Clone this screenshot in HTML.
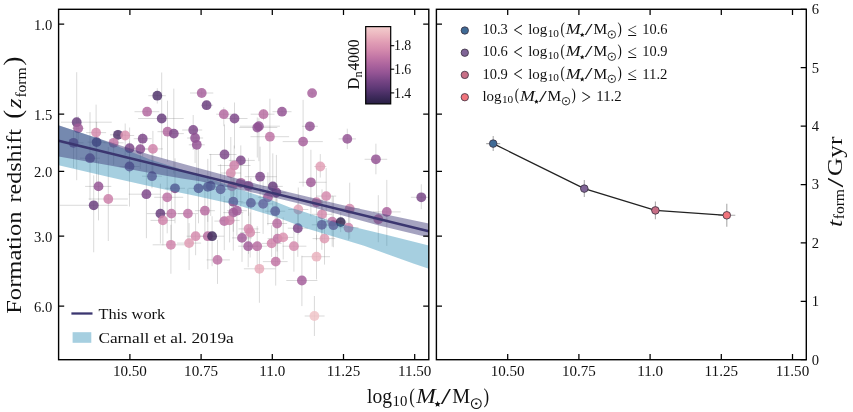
<!DOCTYPE html><html><head><meta charset="utf-8"><title>fig</title><style>html,body{margin:0;padding:0;background:#fff}svg{display:block;will-change:transform;opacity:0.9999}text{font-family:"Liberation Serif",serif;fill:#111}</style></head><body>
<svg width="853" height="412" viewBox="0 0 853 412">
<rect width="853" height="412" fill="#fff"/>
<defs><clipPath id="c1"><rect x="58.6" y="9.3" width="370.2" height="350.4"/></clipPath>
<linearGradient id="cb" x1="0" y1="0" x2="0" y2="1">
<stop offset="0" stop-color="#f3cece"/>
<stop offset="0.1" stop-color="#ecb7c0"/>
<stop offset="0.2" stop-color="#e19eb5"/>
<stop offset="0.3" stop-color="#d48aad"/>
<stop offset="0.4" stop-color="#c175a5"/>
<stop offset="0.5" stop-color="#ab639d"/>
<stop offset="0.6" stop-color="#945494"/>
<stop offset="0.7" stop-color="#774585"/>
<stop offset="0.8" stop-color="#5d3875"/>
<stop offset="0.9" stop-color="#402b5d"/>
<stop offset="1" stop-color="#281f44"/>
</linearGradient></defs>
<g clip-path="url(#c1)">
<path d="M60.9 122.2H111.7M76.7 72.2V180.2M72.2 128.3H84.2M78.2 116.3V142.3M86.1 132.6H106.1M96.1 104.6V162.6M87.6 142.1H105.6M96.6 122.1V182.1M61.5 142.8H83.5M73.5 122.8V167.8M80.0 158.2H100.0M90.0 112.2V200.2M110.0 134.8H126.0M118.0 129.8V146.8M116.2 135.5H134.2M125.2 123.5V155.5M103.6 142.8H123.6M113.6 134.8V164.8M121.6 148.2H137.6M129.6 127.5V173.2M131.3 149.1H149.3M140.3 134.1V169.1M133.7 138.7H151.7M142.7 132.7V156.7M142.9 148.9H162.9M152.9 130.9V173.9M134.5 111.7H159.3M147.1 108.7V115.7M148.3 95.7H165.8M157.3 88.2V103.5M138.1 118.5H183.7M161.7 72.5V158.5M157.5 131.7H177.5M167.5 100.7V161.7M163.8 133.6H183.8M173.8 88.6V173.6M190.0 93.0H213.3M201.7 90.0V96.0M201.6 105.2H213.1M206.6 101.2V109.2M182.2 130.0H202.2M193.2 115.0V150.0M187.1 138.0H203.1M195.1 128.0V163.0M188.8 144.8H204.8M196.8 132.8V189.8M216.2 114.2H231.8M223.8 107.2V126.2M224.5 118.5H247.5M234.5 102.5V148.5M209.0 154.5H236.5M224.5 124.5V184.5M228.8 160.4H254.8M240.8 145.4V185.4M217.7 165.5H250.5M234.2 145.5V195.5M119.5 166.5H139.5M129.5 141.5V206.5M309.1 93.1H315.1M312.1 90.1V96.1M250.7 114.2H274.5M263.5 109.2V120.2M272.5 111.7H291.5M282.0 107.7V115.7M239.3 127.5H277.3M257.3 117.5V157.5M239.9 126.2H279.9M258.9 118.2V161.2M301.9 126.3H317.9M309.9 122.3V131.3M250.5 136.7H289.1M269.9 98.7V186.7M282.7 141.6H322.8M303.1 99.9V186.6M338.6 138.9H356.0M347.3 128.7V149.1M364.6 159.3H387.2M375.9 143.7V174.3M314.3 166.5H326.3M320.3 154.1V177.5M142.0 176.2H162.0M152.0 151.2V188.2M165.0 188.3H185.0M175.0 158.3V223.3M188.5 188.3H208.5M198.5 148.3V223.3M198.8 186.9H216.8M207.8 158.9V221.9M201.7 185.9H219.7M210.7 153.9V215.9M210.6 189.3H230.6M220.6 164.3V219.3M223.3 201.7H243.3M233.3 173.7V231.7M85.1 186.4H111.3M98.5 161.4V220.4M88.6 199.0H127.9M108.3 147.0V241.0M59.7 205.3H127.7M93.7 175.3V252.3M128.7 194.2H160.4M146.4 164.2V238.2M154.2 197.3H183.2M167.2 169.3V233.3M146.9 213.6H172.4M160.4 183.6V243.6M159.4 213.6H185.4M171.4 185.6V243.6M150.5 220.4H174.6M162.9 198.4V245.4M177.9 213.6H197.9M187.9 188.6V241.6M194.9 210.7H214.9M204.9 180.7V240.7M220.8 173.0H240.8M230.8 137.0V203.0M222.0 186.4H242.0M232.0 161.4V211.4M230.8 182.8H250.8M240.8 157.8V210.8M223.3 212.6H243.3M233.3 182.6V250.6M226.9 210.7H246.9M236.9 185.7V235.7M214.3 221.1H234.3M224.3 196.1V250.1M219.6 220.4H239.6M229.6 198.4V242.4M186.6 236.2H204.6M195.6 214.2V255.2M198.8 236.2H216.8M207.8 211.2V269.2M203.1 236.2H224.1M212.1 216.2V266.2M152.7 244.8H184.9M170.9 224.8V273.8M177.1 243.1H201.1M189.1 223.1V270.1M232.0 237.9H252.0M242.0 212.9V261.9M238.2 246.2H258.2M248.2 226.2V267.2M244.7 176.7H276.7M260.1 146.7V206.7M238.5 185.9H258.5M248.5 157.9V215.9M262.8 186.4H282.8M272.8 153.4V216.4M266.4 192.5H286.4M276.4 154.9V222.5M257.9 197.3H277.9M267.9 172.3V225.3M240.9 202.9H260.9M250.9 177.9V230.9M253.1 203.9H273.1M263.1 178.9V233.9M265.2 211.2H285.2M275.2 183.2V241.2M288.3 209.5H308.3M298.3 187.5V234.5M267.1 223.5H287.1M277.1 198.5V251.5M287.8 228.2H307.8M297.8 203.2V256.9M238.5 228.9H258.5M248.5 203.9V253.9M240.2 232.5H260.2M250.2 212.5V257.5M247.2 246.2H267.2M257.2 226.2V268.2M261.6 243.4H281.6M271.6 225.4V256.9M267.6 238.6H287.6M277.6 216.6V263.6M273.2 237.4H293.2M283.2 217.4V259.4M282.5 246.2H306.4M293.9 224.2V271.7M298.9 182.3H326.4M310.9 149.8V216.3M316.2 196.1H336.2M326.2 168.1V228.1M312.0 214.3H332.0M322.0 189.3V242.3M306.5 202.2H326.5M316.5 167.2V240.2M311.8 224.8H331.8M321.8 199.8V249.8M322.2 221.6H342.2M332.2 195.6V246.6M323.4 225.2H343.4M333.4 196.2V247.2M334.7 222.1H346.7M340.7 212.1V232.1M338.5 227.7H358.5M348.5 207.7V239.7M339.7 208.7H359.7M349.7 182.7V238.7M312.6 238.6H335.2M324.5 218.6V264.6M373.0 211.9H400.7M386.8 179.9V245.9M368.3 219.2H388.3M378.3 195.2V242.2M410.9 197.3H431.3M421.3 184.3V209.1M206.6 259.9H229.9M217.5 239.9V283.9M262.9 261.6H287.6M275.7 239.6V285.6M243.9 268.8H275.4M259.4 249.8V302.8M301.7 256.7H330.0M316.5 234.7V279.4M286.3 280.5H317.4M301.9 255.7V306.1M304.7 316.0H324.6M314.4 296.0V336.0" stroke="#707070" stroke-opacity="0.29" stroke-width="0.9" fill="none"/>
<circle cx="76.7" cy="122.2" r="4.9" fill="#693e7d" fill-opacity="0.84"/>
<circle cx="78.2" cy="128.3" r="4.9" fill="#a15c99" fill-opacity="0.84"/>
<circle cx="96.1" cy="132.6" r="4.9" fill="#d48aad" fill-opacity="0.84"/>
<circle cx="96.6" cy="142.1" r="4.9" fill="#5d3875" fill-opacity="0.84"/>
<circle cx="73.5" cy="142.8" r="4.9" fill="#854c8d" fill-opacity="0.84"/>
<circle cx="90.0" cy="158.2" r="4.9" fill="#854c8d" fill-opacity="0.84"/>
<circle cx="118.0" cy="134.8" r="4.9" fill="#4f326a" fill-opacity="0.84"/>
<circle cx="125.2" cy="135.5" r="4.9" fill="#db93b0" fill-opacity="0.84"/>
<circle cx="113.6" cy="142.8" r="4.9" fill="#c175a5" fill-opacity="0.84"/>
<circle cx="129.6" cy="148.2" r="4.9" fill="#7d4889" fill-opacity="0.84"/>
<circle cx="140.3" cy="149.1" r="4.9" fill="#8e5091" fill-opacity="0.84"/>
<circle cx="142.7" cy="138.7" r="4.9" fill="#7d4889" fill-opacity="0.84"/>
<circle cx="152.9" cy="148.9" r="4.9" fill="#cf83aa" fill-opacity="0.84"/>
<circle cx="147.1" cy="111.7" r="4.9" fill="#b369a0" fill-opacity="0.84"/>
<circle cx="157.3" cy="95.7" r="4.9" fill="#4f326a" fill-opacity="0.84"/>
<circle cx="161.7" cy="118.5" r="4.9" fill="#693e7d" fill-opacity="0.84"/>
<circle cx="167.5" cy="131.7" r="4.9" fill="#b369a0" fill-opacity="0.84"/>
<circle cx="173.8" cy="133.6" r="4.9" fill="#7d4889" fill-opacity="0.84"/>
<circle cx="201.7" cy="93.0" r="4.9" fill="#a7609c" fill-opacity="0.84"/>
<circle cx="206.6" cy="105.2" r="4.9" fill="#693e7d" fill-opacity="0.84"/>
<circle cx="193.2" cy="130.0" r="4.9" fill="#7d4889" fill-opacity="0.84"/>
<circle cx="195.1" cy="138.0" r="4.9" fill="#8e5091" fill-opacity="0.84"/>
<circle cx="196.8" cy="144.8" r="4.9" fill="#945494" fill-opacity="0.84"/>
<circle cx="223.8" cy="114.2" r="4.9" fill="#b369a0" fill-opacity="0.84"/>
<circle cx="234.5" cy="118.5" r="4.9" fill="#7d4889" fill-opacity="0.84"/>
<circle cx="224.5" cy="154.5" r="4.9" fill="#7d4889" fill-opacity="0.84"/>
<circle cx="240.8" cy="160.4" r="4.9" fill="#7d4889" fill-opacity="0.84"/>
<circle cx="234.2" cy="165.5" r="4.9" fill="#cc80a9" fill-opacity="0.84"/>
<circle cx="129.5" cy="166.5" r="4.9" fill="#7d4889" fill-opacity="0.84"/>
<circle cx="312.1" cy="93.1" r="4.9" fill="#a7609c" fill-opacity="0.84"/>
<circle cx="263.5" cy="114.2" r="4.9" fill="#b76ca1" fill-opacity="0.84"/>
<circle cx="282.0" cy="111.7" r="4.9" fill="#945494" fill-opacity="0.84"/>
<circle cx="257.3" cy="127.5" r="4.9" fill="#8e5091" fill-opacity="0.84"/>
<circle cx="258.9" cy="126.2" r="4.9" fill="#8e5091" fill-opacity="0.84"/>
<circle cx="309.9" cy="126.3" r="4.9" fill="#945494" fill-opacity="0.84"/>
<circle cx="269.9" cy="136.7" r="4.9" fill="#be72a4" fill-opacity="0.84"/>
<circle cx="303.1" cy="141.6" r="4.9" fill="#a7609c" fill-opacity="0.84"/>
<circle cx="347.3" cy="138.9" r="4.9" fill="#945494" fill-opacity="0.84"/>
<circle cx="375.9" cy="159.3" r="4.9" fill="#945494" fill-opacity="0.84"/>
<circle cx="320.3" cy="166.5" r="4.9" fill="#e19eb5" fill-opacity="0.84"/>
<circle cx="152.0" cy="176.2" r="4.9" fill="#7d4889" fill-opacity="0.84"/>
<circle cx="175.0" cy="188.3" r="4.9" fill="#774585" fill-opacity="0.84"/>
<circle cx="198.5" cy="188.3" r="4.9" fill="#774585" fill-opacity="0.84"/>
<circle cx="207.8" cy="186.9" r="4.9" fill="#774585" fill-opacity="0.84"/>
<circle cx="210.7" cy="185.9" r="4.9" fill="#774585" fill-opacity="0.84"/>
<circle cx="220.6" cy="189.3" r="4.9" fill="#854c8d" fill-opacity="0.84"/>
<circle cx="233.3" cy="201.7" r="4.9" fill="#854c8d" fill-opacity="0.84"/>
<circle cx="98.5" cy="186.4" r="4.9" fill="#945494" fill-opacity="0.84"/>
<circle cx="108.3" cy="199.0" r="4.9" fill="#cc80a9" fill-opacity="0.84"/>
<circle cx="93.7" cy="205.3" r="4.9" fill="#693e7d" fill-opacity="0.84"/>
<circle cx="146.4" cy="194.2" r="4.9" fill="#7d4889" fill-opacity="0.84"/>
<circle cx="167.2" cy="197.3" r="4.9" fill="#be72a4" fill-opacity="0.84"/>
<circle cx="160.4" cy="213.6" r="4.9" fill="#693e7d" fill-opacity="0.84"/>
<circle cx="171.4" cy="213.6" r="4.9" fill="#be72a4" fill-opacity="0.84"/>
<circle cx="162.9" cy="220.4" r="4.9" fill="#cf83aa" fill-opacity="0.84"/>
<circle cx="187.9" cy="213.6" r="4.9" fill="#be72a4" fill-opacity="0.84"/>
<circle cx="204.9" cy="210.7" r="4.9" fill="#b76ca1" fill-opacity="0.84"/>
<circle cx="230.8" cy="173.0" r="4.9" fill="#d48aad" fill-opacity="0.84"/>
<circle cx="232.0" cy="186.4" r="4.9" fill="#cc80a9" fill-opacity="0.84"/>
<circle cx="240.8" cy="182.8" r="4.9" fill="#ab639d" fill-opacity="0.84"/>
<circle cx="233.3" cy="212.6" r="4.9" fill="#a15c99" fill-opacity="0.84"/>
<circle cx="236.9" cy="210.7" r="4.9" fill="#a15c99" fill-opacity="0.84"/>
<circle cx="224.3" cy="221.1" r="4.9" fill="#b76ca1" fill-opacity="0.84"/>
<circle cx="229.6" cy="220.4" r="4.9" fill="#cc80a9" fill-opacity="0.84"/>
<circle cx="195.6" cy="236.2" r="4.9" fill="#d48aad" fill-opacity="0.84"/>
<circle cx="207.8" cy="236.2" r="4.9" fill="#b76ca1" fill-opacity="0.84"/>
<circle cx="212.1" cy="236.2" r="4.9" fill="#402b5d" fill-opacity="0.84"/>
<circle cx="170.9" cy="244.8" r="4.9" fill="#cf83aa" fill-opacity="0.84"/>
<circle cx="189.1" cy="243.1" r="4.9" fill="#df9bb3" fill-opacity="0.84"/>
<circle cx="242.0" cy="237.9" r="4.9" fill="#a15c99" fill-opacity="0.84"/>
<circle cx="248.2" cy="246.2" r="4.9" fill="#a15c99" fill-opacity="0.84"/>
<circle cx="260.1" cy="176.7" r="4.9" fill="#7d4889" fill-opacity="0.84"/>
<circle cx="248.5" cy="185.9" r="4.9" fill="#a7609c" fill-opacity="0.84"/>
<circle cx="272.8" cy="186.4" r="4.9" fill="#693e7d" fill-opacity="0.84"/>
<circle cx="276.4" cy="192.5" r="4.9" fill="#854c8d" fill-opacity="0.84"/>
<circle cx="267.9" cy="197.3" r="4.9" fill="#a15c99" fill-opacity="0.84"/>
<circle cx="250.9" cy="202.9" r="4.9" fill="#854c8d" fill-opacity="0.84"/>
<circle cx="263.1" cy="203.9" r="4.9" fill="#945494" fill-opacity="0.84"/>
<circle cx="275.2" cy="211.2" r="4.9" fill="#854c8d" fill-opacity="0.84"/>
<circle cx="298.3" cy="209.5" r="4.9" fill="#e4a3b7" fill-opacity="0.84"/>
<circle cx="277.1" cy="223.5" r="4.9" fill="#b76ca1" fill-opacity="0.84"/>
<circle cx="297.8" cy="228.2" r="4.9" fill="#7d4889" fill-opacity="0.84"/>
<circle cx="248.5" cy="228.9" r="4.9" fill="#d48aad" fill-opacity="0.84"/>
<circle cx="250.2" cy="232.5" r="4.9" fill="#d48aad" fill-opacity="0.84"/>
<circle cx="257.2" cy="246.2" r="4.9" fill="#b76ca1" fill-opacity="0.84"/>
<circle cx="271.6" cy="243.4" r="4.9" fill="#cf83aa" fill-opacity="0.84"/>
<circle cx="277.6" cy="238.6" r="4.9" fill="#c175a5" fill-opacity="0.84"/>
<circle cx="283.2" cy="237.4" r="4.9" fill="#db93b0" fill-opacity="0.84"/>
<circle cx="293.9" cy="246.2" r="4.9" fill="#d48aad" fill-opacity="0.84"/>
<circle cx="310.9" cy="182.3" r="4.9" fill="#a15c99" fill-opacity="0.84"/>
<circle cx="326.2" cy="196.1" r="4.9" fill="#d48aad" fill-opacity="0.84"/>
<circle cx="322.0" cy="214.3" r="4.9" fill="#d48aad" fill-opacity="0.84"/>
<circle cx="316.5" cy="202.2" r="4.9" fill="#cc80a9" fill-opacity="0.84"/>
<circle cx="321.8" cy="224.8" r="4.9" fill="#854c8d" fill-opacity="0.84"/>
<circle cx="332.2" cy="221.6" r="4.9" fill="#c175a5" fill-opacity="0.84"/>
<circle cx="333.4" cy="225.2" r="4.9" fill="#854c8d" fill-opacity="0.84"/>
<circle cx="340.7" cy="222.1" r="4.9" fill="#332550" fill-opacity="0.84"/>
<circle cx="348.5" cy="227.7" r="4.9" fill="#cf83aa" fill-opacity="0.84"/>
<circle cx="349.7" cy="208.7" r="4.9" fill="#d48aad" fill-opacity="0.84"/>
<circle cx="324.5" cy="238.6" r="4.9" fill="#df9bb3" fill-opacity="0.84"/>
<circle cx="386.8" cy="211.9" r="4.9" fill="#ab639d" fill-opacity="0.84"/>
<circle cx="378.3" cy="219.2" r="4.9" fill="#c175a5" fill-opacity="0.84"/>
<circle cx="421.3" cy="197.3" r="4.9" fill="#774585" fill-opacity="0.84"/>
<circle cx="217.5" cy="259.9" r="4.9" fill="#be72a4" fill-opacity="0.84"/>
<circle cx="275.7" cy="261.6" r="4.9" fill="#c175a5" fill-opacity="0.84"/>
<circle cx="259.4" cy="268.8" r="4.9" fill="#e7aaba" fill-opacity="0.84"/>
<circle cx="316.5" cy="256.7" r="4.9" fill="#eab2be" fill-opacity="0.84"/>
<circle cx="301.9" cy="280.5" r="4.9" fill="#a55e9b" fill-opacity="0.84"/>
<circle cx="314.4" cy="316.0" r="4.9" fill="#f0c3c7" fill-opacity="0.84"/>
<polygon points="58.6,125.5 100,139 150,159.5 200,175.3 238.7,189 260,196 275,201.5 290,207.5 306,212.5 340,224 360,228.5 385,234.5 428.8,245.5 428.8,268.8 414,263.8 364,245.8 340,238.5 306,228.3 275,216.5 238.7,205.5 195,195.7 160,188.4 110,177.2 58.6,165.2" fill="#2087b2" fill-opacity="0.4"/>
<polygon points="58.6,125.3 100,139.121 150,154.844 200,168.567 250,182.09 290,192.468 340,204.491 380,213.369 428.8,223.599 428.8,237.599 380,225.669 340,214.791 300,203.813 270,196.479 240,189.645 200,181.167 182,178.466 150,172.944 110,165.565 58.6,156.5" fill="#3b3776" fill-opacity="0.46"/>
<line x1="58.6" y1="140.8" x2="428.8" y2="231.3" stroke="#3b3670" stroke-width="2.5"/>
</g>
<rect x="58.6" y="9.3" width="370.2" height="350.4" fill="none" stroke="#000" stroke-width="1.4"/>
<rect x="436.4" y="9.3" width="369.9" height="350.4" fill="none" stroke="#000" stroke-width="1.4"/>
<path d="M129.9 359.7v-5.6M129.9 9.3v5.6M201.1 359.7v-5.6M201.1 9.3v5.6M272.3 359.7v-5.6M272.3 9.3v5.6M343.5 359.7v-5.6M343.5 9.3v5.6M414.7 359.7v-5.6M414.7 9.3v5.6M507.7 359.7v-5.6M507.7 9.3v5.6M578.9 359.7v-5.6M578.9 9.3v5.6M650.1 359.7v-5.6M650.1 9.3v5.6M721.3 359.7v-5.6M721.3 9.3v5.6M792.5 359.7v-5.6M792.5 9.3v5.6M58.6 24.2h5.6M428.8 24.2h-5.6M436.4 24.2h5.6M58.6 114.2h5.6M428.8 114.2h-5.6M436.4 114.2h5.6M58.6 171.4h5.6M428.8 171.4h-5.6M436.4 171.4h5.6M58.6 236.2h5.6M428.8 236.2h-5.6M436.4 236.2h5.6M58.6 306.0h5.6M428.8 306.0h-5.6M436.4 306.0h5.6M806.3 359.7h-5.6M806.3 301.3h-5.6M806.3 242.9h-5.6M806.3 184.5h-5.6M806.3 126.1h-5.6M806.3 67.7h-5.6M806.3 9.3h-5.6" stroke="#000" stroke-width="1.25" fill="none"/>
<text x="129.9" y="376.3" font-size="15.1" text-anchor="middle">10.50</text>
<text x="201.1" y="376.3" font-size="15.1" text-anchor="middle">10.75</text>
<text x="272.3" y="376.3" font-size="15.1" text-anchor="middle">11.0</text>
<text x="343.5" y="376.3" font-size="15.1" text-anchor="middle">11.25</text>
<text x="414.7" y="376.3" font-size="15.1" text-anchor="middle">11.50</text>
<text x="507.7" y="376.3" font-size="15.1" text-anchor="middle">10.50</text>
<text x="578.9" y="376.3" font-size="15.1" text-anchor="middle">10.75</text>
<text x="650.1" y="376.3" font-size="15.1" text-anchor="middle">11.0</text>
<text x="721.3" y="376.3" font-size="15.1" text-anchor="middle">11.25</text>
<text x="792.5" y="376.3" font-size="15.1" text-anchor="middle">11.50</text>
<text x="52.2" y="29.7" font-size="14.6" text-anchor="end">1.0</text>
<text x="52.2" y="119.7" font-size="14.6" text-anchor="end">1.5</text>
<text x="52.2" y="176.9" font-size="14.6" text-anchor="end">2.0</text>
<text x="52.2" y="241.7" font-size="14.6" text-anchor="end">3.0</text>
<text x="52.2" y="311.5" font-size="14.6" text-anchor="end">6.0</text>
<text x="811.8" y="364.6" font-size="14.6">0</text>
<text x="811.8" y="306.2" font-size="14.6">1</text>
<text x="811.8" y="247.8" font-size="14.6">2</text>
<text x="811.8" y="189.4" font-size="14.6">3</text>
<text x="811.8" y="131.0" font-size="14.6">4</text>
<text x="811.8" y="72.6" font-size="14.6">5</text>
<text x="811.8" y="14.2" font-size="14.6">6</text>
<rect x="365.7" y="26.6" width="25" height="77.3" fill="url(#cb)" stroke="#000" stroke-width="1.2"/>
<path d="M390.7 45.7h3.5" stroke="#000" stroke-width="1.1"/>
<text x="394.0" y="50.4" font-size="13.8">1.8</text>
<path d="M390.7 69.2h3.5" stroke="#000" stroke-width="1.1"/>
<text x="394.0" y="73.9" font-size="13.8">1.6</text>
<path d="M390.7 92.9h3.5" stroke="#000" stroke-width="1.1"/>
<text x="394.0" y="97.6" font-size="13.8">1.4</text>
<g transform="translate(359.3,0) rotate(-90)">
<text x="-89.6" y="0.0" font-size="16" textLength="11.8" lengthAdjust="spacingAndGlyphs">D</text>
<text x="-77.4" y="2.6" font-size="11.5" textLength="6.2" lengthAdjust="spacingAndGlyphs">n</text>
<text x="-70.6" y="0.0" font-size="16" textLength="31.2" lengthAdjust="spacingAndGlyphs">4000</text>
</g>
<line x1="71.4" y1="313.5" x2="92.5" y2="313.5" stroke="#3b3670" stroke-width="2.3"/>
<text x="98.4" y="318.6" font-size="15.6" textLength="66.8" lengthAdjust="spacingAndGlyphs">This work</text>
<rect x="72.6" y="332.2" width="18.7" height="10.6" fill="#a6cfe0"/>
<text x="98.4" y="342.8" font-size="15.6" textLength="135.3" lengthAdjust="spacingAndGlyphs">Carnall et al. 2019a</text>
<g transform="translate(21.2,0) rotate(-90)">
<text x="-313.8" y="0.0" font-size="22" textLength="102.3" lengthAdjust="spacingAndGlyphs">Formation</text>
<text x="-202.5" y="0.0" font-size="22" textLength="73.4" lengthAdjust="spacingAndGlyphs">redshift</text>
<text x="-118.8" y="0.2" font-size="26" textLength="8.8" lengthAdjust="spacingAndGlyphs">(</text>
<text x="-108.3" y="0.0" font-size="22" textLength="9.8" lengthAdjust="spacingAndGlyphs" font-style="italic">z</text>
<text x="-97.6" y="4.6" font-size="15.4" textLength="30.1" lengthAdjust="spacingAndGlyphs">form</text>
<text x="-65.4" y="0.2" font-size="26" textLength="8.8" lengthAdjust="spacingAndGlyphs">)</text>
</g>
<text x="367.0" y="403.2" font-size="20" textLength="25.0" lengthAdjust="spacingAndGlyphs">log</text><text x="392.5" y="406.3" font-size="14.3" textLength="14.8" lengthAdjust="spacingAndGlyphs">10</text><text x="409.2" y="402.6" font-size="21.6" textLength="5.6" lengthAdjust="spacingAndGlyphs">(</text><text x="416.2" y="403.2" font-size="20" textLength="19.5" lengthAdjust="spacingAndGlyphs" font-style="italic">M</text><polygon points="437.60,400.90 438.47,403.00 440.74,403.18 439.01,404.66 439.54,406.87 437.60,405.69 435.66,406.87 436.19,404.66 434.46,403.18 436.73,403.00" fill="#111"/><text x="440.8" y="404.2" font-size="23" textLength="10.2" lengthAdjust="spacingAndGlyphs">/</text><text x="452.2" y="403.2" font-size="20" textLength="17.9" lengthAdjust="spacingAndGlyphs">M</text><circle cx="476.3" cy="403.6" r="4.90" fill="none" stroke="#111" stroke-width="1.05"/><circle cx="476.3" cy="403.6" r="1.18" fill="#111"/><text x="483.6" y="402.6" font-size="21.6" textLength="5.6" lengthAdjust="spacingAndGlyphs">)</text>
<circle cx="464.8" cy="30.5" r="3.7" fill="#3f6a95" stroke="#3a3040" stroke-width="0.8"/>
<text x="482.4" y="34.2" font-size="14.8" textLength="25.4" lengthAdjust="spacingAndGlyphs">10.3</text>
<text x="513.2" y="36.8" font-size="21" textLength="9.5" lengthAdjust="spacingAndGlyphs">&lt;</text>
<text x="528.2" y="34.2" font-size="15.3" textLength="19.1" lengthAdjust="spacingAndGlyphs">log</text><text x="547.7" y="36.6" font-size="10.9395" textLength="11.3" lengthAdjust="spacingAndGlyphs">10</text><text x="560.5" y="33.7" font-size="16.524" textLength="4.3" lengthAdjust="spacingAndGlyphs">(</text><text x="565.8" y="34.2" font-size="15.3" textLength="14.9" lengthAdjust="spacingAndGlyphs" font-style="italic">M</text><polygon points="582.21,32.44 582.88,34.05 584.61,34.18 583.29,35.32 583.69,37.01 582.21,36.10 580.73,37.01 581.13,35.32 579.81,34.18 581.54,34.05" fill="#111"/><text x="584.7" y="35.0" font-size="17.595" textLength="7.8" lengthAdjust="spacingAndGlyphs">/</text><text x="593.4" y="34.2" font-size="15.3" textLength="13.7" lengthAdjust="spacingAndGlyphs">M</text><circle cx="611.8" cy="34.5" r="3.75" fill="none" stroke="#111" stroke-width="0.82675"/><circle cx="611.8" cy="34.5" r="0.90" fill="#111"/><text x="617.4" y="33.7" font-size="16.524" textLength="4.3" lengthAdjust="spacingAndGlyphs">)</text>
<text x="627.3" y="35.8" font-size="18.5" textLength="9.5" lengthAdjust="spacingAndGlyphs">≤</text>
<text x="642.2" y="34.2" font-size="14.8" textLength="25.3" lengthAdjust="spacingAndGlyphs">10.6</text>
<circle cx="464.8" cy="52.7" r="3.7" fill="#7f6496" stroke="#3a3040" stroke-width="0.8"/>
<text x="482.4" y="56.4" font-size="14.8" textLength="25.4" lengthAdjust="spacingAndGlyphs">10.6</text>
<text x="513.2" y="59.0" font-size="21" textLength="9.5" lengthAdjust="spacingAndGlyphs">&lt;</text>
<text x="528.2" y="56.4" font-size="15.3" textLength="19.1" lengthAdjust="spacingAndGlyphs">log</text><text x="547.7" y="58.8" font-size="10.9395" textLength="11.3" lengthAdjust="spacingAndGlyphs">10</text><text x="560.5" y="55.9" font-size="16.524" textLength="4.3" lengthAdjust="spacingAndGlyphs">(</text><text x="565.8" y="56.4" font-size="15.3" textLength="14.9" lengthAdjust="spacingAndGlyphs" font-style="italic">M</text><polygon points="582.21,54.64 582.88,56.25 584.61,56.38 583.29,57.52 583.69,59.21 582.21,58.30 580.73,59.21 581.13,57.52 579.81,56.38 581.54,56.25" fill="#111"/><text x="584.7" y="57.2" font-size="17.595" textLength="7.8" lengthAdjust="spacingAndGlyphs">/</text><text x="593.4" y="56.4" font-size="15.3" textLength="13.7" lengthAdjust="spacingAndGlyphs">M</text><circle cx="611.8" cy="56.7" r="3.75" fill="none" stroke="#111" stroke-width="0.82675"/><circle cx="611.8" cy="56.7" r="0.90" fill="#111"/><text x="617.4" y="55.9" font-size="16.524" textLength="4.3" lengthAdjust="spacingAndGlyphs">)</text>
<text x="627.3" y="58.0" font-size="18.5" textLength="9.5" lengthAdjust="spacingAndGlyphs">≤</text>
<text x="642.2" y="56.4" font-size="14.8" textLength="25.3" lengthAdjust="spacingAndGlyphs">10.9</text>
<circle cx="464.8" cy="74.9" r="3.7" fill="#c76f86" stroke="#3a3040" stroke-width="0.8"/>
<text x="482.4" y="78.6" font-size="14.8" textLength="25.4" lengthAdjust="spacingAndGlyphs">10.9</text>
<text x="513.2" y="81.2" font-size="21" textLength="9.5" lengthAdjust="spacingAndGlyphs">&lt;</text>
<text x="528.2" y="78.6" font-size="15.3" textLength="19.1" lengthAdjust="spacingAndGlyphs">log</text><text x="547.7" y="81.0" font-size="10.9395" textLength="11.3" lengthAdjust="spacingAndGlyphs">10</text><text x="560.5" y="78.1" font-size="16.524" textLength="4.3" lengthAdjust="spacingAndGlyphs">(</text><text x="565.8" y="78.6" font-size="15.3" textLength="14.9" lengthAdjust="spacingAndGlyphs" font-style="italic">M</text><polygon points="582.21,76.84 582.88,78.45 584.61,78.58 583.29,79.72 583.69,81.41 582.21,80.50 580.73,81.41 581.13,79.72 579.81,78.58 581.54,78.45" fill="#111"/><text x="584.7" y="79.4" font-size="17.595" textLength="7.8" lengthAdjust="spacingAndGlyphs">/</text><text x="593.4" y="78.6" font-size="15.3" textLength="13.7" lengthAdjust="spacingAndGlyphs">M</text><circle cx="611.8" cy="78.9" r="3.75" fill="none" stroke="#111" stroke-width="0.82675"/><circle cx="611.8" cy="78.9" r="0.90" fill="#111"/><text x="617.4" y="78.1" font-size="16.524" textLength="4.3" lengthAdjust="spacingAndGlyphs">)</text>
<text x="627.3" y="80.2" font-size="18.5" textLength="9.5" lengthAdjust="spacingAndGlyphs">≤</text>
<text x="642.2" y="78.6" font-size="14.8" textLength="25.3" lengthAdjust="spacingAndGlyphs">11.2</text>
<circle cx="464.8" cy="97.2" r="3.7" fill="#f0747c" stroke="#3a3040" stroke-width="0.8"/>
<text x="482.4" y="100.9" font-size="15.3" textLength="19.1" lengthAdjust="spacingAndGlyphs">log</text><text x="501.9" y="103.3" font-size="10.9395" textLength="11.3" lengthAdjust="spacingAndGlyphs">10</text><text x="514.7" y="100.4" font-size="16.524" textLength="4.3" lengthAdjust="spacingAndGlyphs">(</text><text x="520.0" y="100.9" font-size="15.3" textLength="14.9" lengthAdjust="spacingAndGlyphs" font-style="italic">M</text><polygon points="536.41,99.14 537.08,100.75 538.81,100.88 537.49,102.02 537.89,103.71 536.41,102.80 534.93,103.71 535.33,102.02 534.01,100.88 535.74,100.75" fill="#111"/><text x="538.9" y="101.7" font-size="17.595" textLength="7.8" lengthAdjust="spacingAndGlyphs">/</text><text x="547.6" y="100.9" font-size="15.3" textLength="13.7" lengthAdjust="spacingAndGlyphs">M</text><circle cx="566.0" cy="101.2" r="3.75" fill="none" stroke="#111" stroke-width="0.82675"/><circle cx="566.0" cy="101.2" r="0.90" fill="#111"/><text x="571.6" y="100.4" font-size="16.524" textLength="4.3" lengthAdjust="spacingAndGlyphs">)</text>
<text x="581.4" y="103.5" font-size="21" textLength="9.5" lengthAdjust="spacingAndGlyphs">&gt;</text>
<text x="596.3" y="100.9" font-size="14.8" textLength="25.3" lengthAdjust="spacingAndGlyphs">11.2</text>
<path d="M486.2 143.6h14.0M493.2 136.1v15.0M580.3 188.6h8.0M584.3 180.1v17.0M650.9 210.4h9.0M655.4 201.6v17.6M718.3 215.3h17.0M726.8 203.8v23.0" stroke="#aaa" stroke-width="1.1" fill="none"/>
<polyline points="493.2,143.6 584.3,188.6 655.4,210.4 726.8,215.3" fill="none" stroke="#222" stroke-width="1.3"/>
<circle cx="493.2" cy="143.6" r="3.8" fill="#3f6a95" stroke="#3a3040" stroke-width="0.8"/>
<circle cx="584.3" cy="188.6" r="3.8" fill="#7f6496" stroke="#3a3040" stroke-width="0.8"/>
<circle cx="655.4" cy="210.4" r="3.8" fill="#c76f86" stroke="#3a3040" stroke-width="0.8"/>
<circle cx="726.8" cy="215.3" r="3.8" fill="#f0747c" stroke="#3a3040" stroke-width="0.8"/>
<g transform="translate(841.5,0) rotate(-90)">
<text x="-227.0" y="0.0" font-size="22" textLength="7.2" lengthAdjust="spacingAndGlyphs" font-style="italic">t</text>
<text x="-219.2" y="2.6" font-size="15.4" textLength="30.1" lengthAdjust="spacingAndGlyphs">form</text>
<text x="-187.4" y="1.2" font-size="24" textLength="9.8" lengthAdjust="spacingAndGlyphs">/</text>
<text x="-176.0" y="0.0" font-size="22" textLength="39.3" lengthAdjust="spacingAndGlyphs">Gyr</text>
</g>
</svg></body></html>
